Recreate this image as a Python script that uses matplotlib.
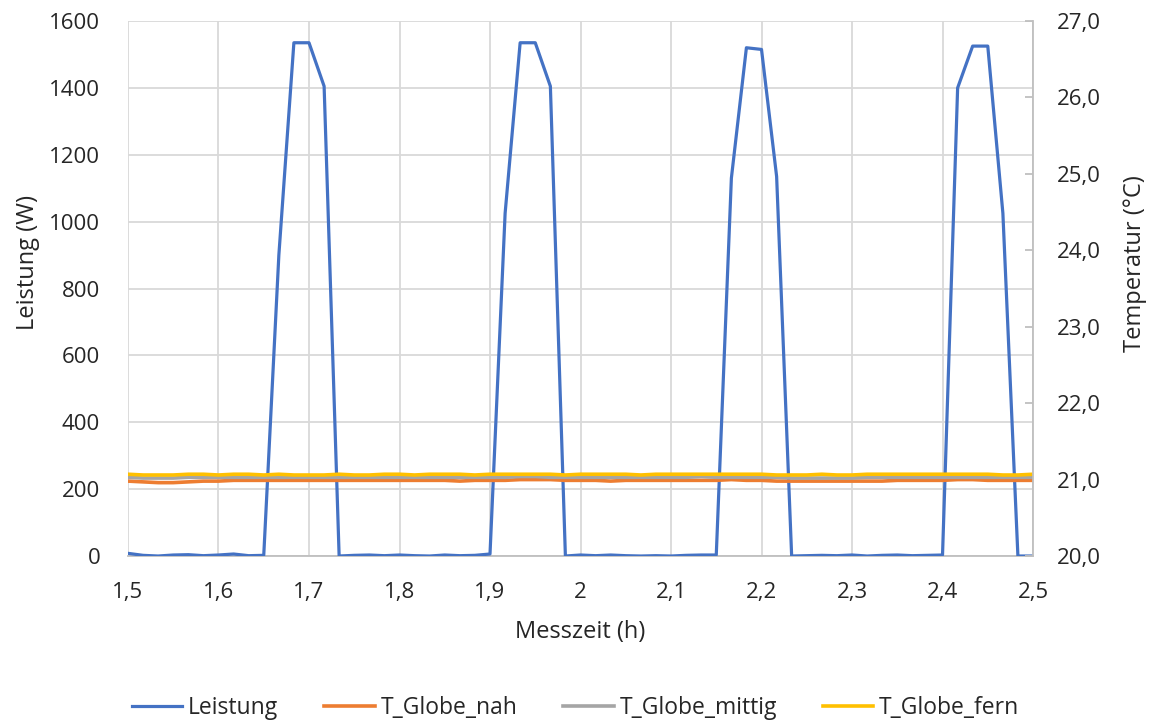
import numpy as np
import matplotlib.pyplot as plt
from matplotlib.ticker import FuncFormatter, MultipleLocator

plt.rcParams['font.family'] = ['Open Sans', 'DejaVu Sans']

# Messzeit in Stunden (Minutenwerte)
messzeit = np.round(1.5 + np.arange(61) / 60, 4)

leistung = [8, 2, 0, 3, 4, 1, 3, 6, 1, 2,
            900, 1535, 1535, 1405, 0, 2, 3, 1, 3, 1,
            0, 3, 1, 2, 6, 1025, 1535, 1535, 1405, 0,
            3, 1, 3, 1, 0, 1, 0, 2, 3, 3,
            1130, 1520, 1515, 1135, 0, 1, 2, 1, 3, 0,
            2, 3, 1, 2, 3, 1400, 1525, 1525, 1025, 0, 0]

t_nah = [20.98, 20.97, 20.96, 20.96, 20.97, 20.98, 20.98, 20.99, 20.99, 20.99,
         20.99, 20.99, 20.99, 20.99, 20.99, 20.99, 20.99, 20.99, 20.99, 20.99,
         20.99, 20.99, 20.98, 20.99, 20.99, 20.99, 21.00, 21.00, 21.00, 20.99,
         20.99, 20.99, 20.98, 20.99, 20.99, 20.99, 20.99, 20.99, 20.99, 20.99,
         21.00, 20.99, 20.99, 20.98, 20.98, 20.98, 20.98, 20.98, 20.98, 20.98,
         20.98, 20.99, 20.99, 20.99, 20.99, 21.00, 21.00, 20.99, 20.99, 20.99, 20.99]

t_mittig = [21.03, 21.02, 21.02, 21.02, 21.03, 21.03, 21.03, 21.03, 21.03, 21.03,
            21.03, 21.03, 21.03, 21.03, 21.03, 21.03, 21.03, 21.03, 21.03, 21.03,
            21.03, 21.03, 21.03, 21.03, 21.03, 21.03, 21.04, 21.04, 21.03, 21.03,
            21.03, 21.03, 21.03, 21.03, 21.03, 21.03, 21.03, 21.03, 21.04, 21.03,
            21.03, 21.03, 21.03, 21.03, 21.02, 21.02, 21.02, 21.02, 21.02, 21.03,
            21.03, 21.03, 21.03, 21.03, 21.03, 21.03, 21.03, 21.03, 21.03, 21.03, 21.03]

t_fern = [21.07, 21.06, 21.06, 21.06, 21.07, 21.07, 21.06, 21.07, 21.07, 21.06,
          21.07, 21.06, 21.06, 21.06, 21.07, 21.06, 21.06, 21.07, 21.07, 21.06,
          21.07, 21.07, 21.07, 21.06, 21.07, 21.07, 21.07, 21.07, 21.07, 21.06,
          21.07, 21.07, 21.07, 21.07, 21.06, 21.07, 21.07, 21.07, 21.07, 21.07,
          21.07, 21.07, 21.07, 21.06, 21.06, 21.06, 21.07, 21.06, 21.06, 21.07,
          21.07, 21.07, 21.07, 21.07, 21.07, 21.07, 21.07, 21.07, 21.06, 21.06, 21.07]

fig = plt.figure(figsize=(11.51, 7.22), dpi=100)
ax = fig.add_axes([0.1112, 0.2299, 0.7863, 0.741])
ax2 = ax.twinx()

grid_c = '#d9d9d9'
axis_c = '#bfbfbf'
txt_c = '#262626'

l1, = ax.plot(messzeit, leistung, color='#4472C4', lw=2.3, label='Leistung', zorder=3)
l2, = ax2.plot(messzeit, t_nah, color='#ED7D31', lw=2.6, label='T_Globe_nah')
l3, = ax2.plot(messzeit, t_mittig, color='#A5A5A5', lw=2.6, label='T_Globe_mittig')
l4, = ax2.plot(messzeit, t_fern, color='#FFC000', lw=2.6, label='T_Globe_fern')

ax.set_xlim(1.5, 2.5)
ax.set_ylim(0, 1600)
ax2.set_ylim(20, 27)

ax.xaxis.set_major_locator(MultipleLocator(0.1))
ax.yaxis.set_major_locator(MultipleLocator(200))
ax2.yaxis.set_major_locator(MultipleLocator(1))

ax.xaxis.set_major_formatter(FuncFormatter(lambda v, p: f'{v:g}'.replace('.', ',')))
ax2.yaxis.set_major_formatter(FuncFormatter(lambda v, p: f'{v:.1f}'.replace('.', ',')))

ax.grid(True, color=grid_c, lw=1.3)
ax.set_axisbelow(True)

for s in ['top', 'left', 'right']:
    ax.spines[s].set_visible(False)
ax.spines['bottom'].set_color(axis_c)
ax.spines['bottom'].set_linewidth(1.3)
for s in ['top', 'left', 'bottom']:
    ax2.spines[s].set_visible(False)
ax2.spines['right'].set_color(axis_c)
ax2.spines['right'].set_linewidth(1.3)

ax.tick_params(axis='both', length=0, labelsize=16, labelcolor=txt_c)
ax.tick_params(axis='x', pad=19)
ax.tick_params(axis='y', pad=20)
ax2.tick_params(axis='y', direction='in', length=6, width=1.3, color=axis_c,
                labelsize=16, labelcolor=txt_c, pad=17)

ax.set_xlabel('Messzeit (h)', fontsize=17, color=txt_c)
ax.set_ylabel('Leistung (W)', fontsize=17, color=txt_c)
ax2.set_ylabel('Temperatur (°C)', fontsize=17, color=txt_c)
ax.xaxis.set_label_coords(0.5, -(632 - 556) / 535, transform=ax.transAxes)
ax.yaxis.set_label_coords(-(128 - 28) / 905, (556 - 262) / 535)
ax2.yaxis.set_label_coords((1135 - 128) / 905, (556 - 264) / 535)
ax.xaxis.label.set_va('center')
ax.yaxis.label.set_va('center')
ax2.yaxis.label.set_va('center')

fig.legend(handles=[l1, l2, l3, l4], loc='center', bbox_to_anchor=(0.5, 1 - 708 / 722),
           ncol=4, frameon=False, fontsize=16.5, handlelength=2.2, handletextpad=0.25,
           columnspacing=2.0, labelcolor=txt_c)

fig.savefig('out.png', dpi=100)
